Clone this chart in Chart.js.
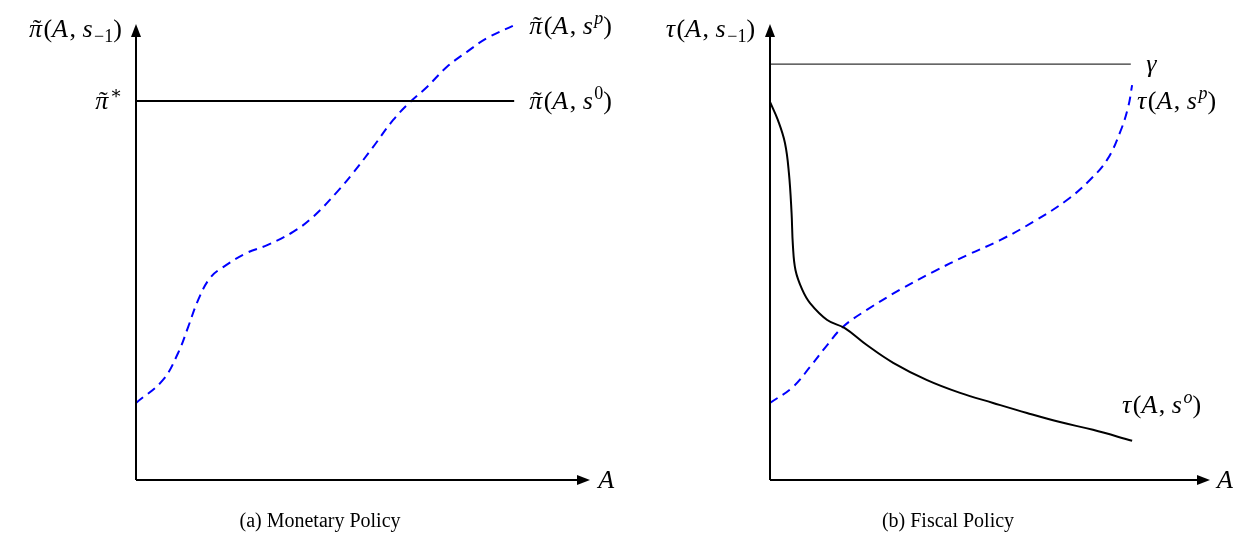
<!DOCTYPE html>
<html>
<head>
<meta charset="utf-8">
<script src="https://cdn.jsdelivr.net/npm/chart.js@4.4.1/dist/chart.umd.min.js"></script>
<style>
  html, body { margin: 0; padding: 0; background: #fff; }
  #wrap { display: flex; width: 1240px; height: 536px; }
  canvas { display: block; }
</style>
</head>
<body>
<div id="wrap">
  <canvas id="monetary" width="620" height="536"></canvas>
  <canvas id="fiscal" width="620" height="536"></canvas>
</div>
<script>
// ---- data (A on 0..100, value on 0..100, axis arrow tips at 100) ----
// (a) monetary policy
const monA = [0, 5.9, 9.3, 11.5, 13.7, 16.3, 19.2, 24.4, 28.9, 34.6, 39.0, 44.3, 47.8, 52.2, 56.6, 60.4, 64.1, 68.5, 72.9, 77.3, 83.0];
const piSp = [16.9, 21.9, 27.9, 33.6, 39.5, 44.3, 46.7, 49.8, 51.5, 54.4, 57.7, 63.2, 67.3, 73.0, 78.9, 82.9, 86.2, 90.6, 93.9, 96.9, 99.6];
const piStar = 83.1;
const piS0End = 83.3;

// (b) fiscal policy
const fisAo = [0, 1.8, 3.4, 4.3, 4.9, 5.2, 5.8, 7.3, 9.1, 13.0, 17.0, 22.0, 28.0, 35.7, 43.2, 50.7, 58.4, 65.9, 73.4, 82.3];
const tauSo = [82.9, 78.9, 73.9, 67.3, 58.6, 51.5, 46.0, 41.8, 38.8, 35.1, 33.3, 29.6, 25.7, 21.9, 19.1, 16.9, 14.7, 12.7, 11.0, 8.6];
const fisAp = [0, 5.2, 9.1, 13.0, 16.6, 22.0, 29.5, 37.0, 44.8, 52.3, 59.8, 67.5, 72.7, 76.6, 79.5, 81.4, 82.3];
const tauSp = [16.9, 20.4, 24.8, 29.6, 33.6, 37.3, 41.7, 45.6, 49.3, 52.6, 56.6, 61.4, 65.8, 70.2, 76.1, 81.8, 86.6];
const gamma = 91.2;
const gammaEnd = 82.0;

const toPts = (xs, ys) => xs.map((v, i) => ({ x: v, y: ys[i] }));

const SERIF = '"Liberation Serif", "DejaVu Serif", serif';
const FS = 26, FSS = 18;

// draw a small piece of math made of parts [text, style]
function drawMath(ctx, parts, px, py, align) {
  const fontOf = s => {
    if (s === "i" || s === "ti") return "italic " + FS + "px " + SERIF;
    if (s === "r") return FS + "px " + SERIF;
    if (s === "supi") return "italic " + FSS + "px " + SERIF;
    return FSS + "px " + SERIF;
  };
  let total = 0;
  const widths = parts.map(p => {
    ctx.font = fontOf(p[1]);
    const w = ctx.measureText(p[0]).width + (p[1] === "i" || p[1] === "ti" ? 1.5 : 0);
    total += w;
    return w;
  });
  let cx = align === "right" ? px - total : align === "center" ? px - total / 2 : px;
  ctx.textAlign = "left";
  ctx.textBaseline = "alphabetic";
  const base = py + 8;
  parts.forEach((p, i) => {
    ctx.font = fontOf(p[1]);
    let dy = 0;
    if (p[1] === "sup" || p[1] === "supi") dy = -10;
    if (p[1] === "sub") dy = 5;
    ctx.fillText(p[0], cx, base + dy);
    if (p[1] === "ti") {
      ctx.font = FS + "px " + SERIF;
      const tw = ctx.measureText("\u02DC").width;
      ctx.fillText("\u02DC", cx + widths[i] / 2 - tw / 2 + 1, base);
    }
    cx += widths[i];
  });
}

function arrowHead(ctx, x, y, dir) {
  const L = 13, W = 5;
  ctx.beginPath();
  if (dir === "up") {
    ctx.moveTo(x, y); ctx.lineTo(x - W, y + L); ctx.lineTo(x + W, y + L);
  } else {
    ctx.moveTo(x, y); ctx.lineTo(x - L, y - W); ctx.lineTo(x - L, y + W);
  }
  ctx.closePath();
  ctx.fill();
}

const decor = {
  id: "decor",
  afterDatasetsDraw(chart, args, opts) {
    const { ctx, chartArea: ca, scales } = chart;
    ctx.save();
    ctx.strokeStyle = "#000";
    ctx.fillStyle = "#000";
    ctx.lineWidth = 2;
    ctx.beginPath();
    ctx.moveTo(ca.left, ca.bottom);
    ctx.lineTo(ca.left, ca.top + 10);
    ctx.moveTo(ca.left, ca.bottom);
    ctx.lineTo(ca.right - 10, ca.bottom);
    ctx.stroke();
    arrowHead(ctx, ca.left, ca.top, "up");
    arrowHead(ctx, ca.right, ca.bottom, "right");
    opts.labels.forEach(l => {
      drawMath(ctx, l.parts, scales.x.getPixelForValue(l.x), scales.y.getPixelForValue(l.y), l.align);
    });
    ctx.font = "20px " + SERIF;
    ctx.textAlign = "center";
    ctx.textBaseline = "middle";
    ctx.fillText(opts.caption, opts.capX, 522);
    ctx.restore();
  }
};

function baseOptions(padLeft, labels, caption, capX) {
  return {
    responsive: false,
    animation: false,
    layout: { padding: { left: padLeft, right: 30, top: 24, bottom: 56 } },
    scales: {
      x: { type: "linear", min: 0, max: 100, display: false },
      y: { type: "linear", min: 0, max: 100, display: false }
    },
    plugins: {
      legend: { display: false },
      tooltip: { enabled: false },
      decor: { labels: labels, caption: caption, capX: capX }
    }
  };
}

const lineDs = (data, color, width, dash) => ({
  data: data,
  showLine: true,
  borderColor: color,
  borderWidth: width,
  borderDash: dash,
  pointRadius: 0,
  tension: 0.4,
  clip: false,
  fill: false
});

const A = [["A", "i"]];

new Chart(document.getElementById("monetary"), {
  type: "scatter",
  data: {
    datasets: [
      lineDs([{ x: 0, y: piStar }, { x: piS0End, y: piStar }], "#000", 2, []),
      lineDs(toPts(monA, piSp), "#0000ff", 2, [9, 6])
    ]
  },
  options: baseOptions(136, [
    { x: -3.1, y: 99.0, align: "right", parts: [["π", "ti"], ["(", "r"], ["A", "i"], [", ", "r"], ["s", "i"], ["−1", "sub"], [")", "r"]] },
    { x: -3.1, y: piStar, align: "right", parts: [["π", "ti"], ["∗", "sup"]] },
    { x: 86.6, y: piStar, align: "left", parts: [["π", "ti"], ["(", "r"], ["A", "i"], [", ", "r"], ["s", "i"], ["0", "sup"], [")", "r"]] },
    { x: 86.6, y: 99.6, align: "left", parts: [["π", "ti"], ["(", "r"], ["A", "i"], [", ", "r"], ["s", "i"], ["p", "supi"], [")", "r"]] },
    { x: 101.8, y: 0, align: "left", parts: A }
  ], "(a) Monetary Policy", 320),
  plugins: [decor]
});

new Chart(document.getElementById("fiscal"), {
  type: "scatter",
  data: {
    datasets: [
      lineDs([{ x: 0, y: gamma }, { x: gammaEnd, y: gamma }], "#333", 1.2, []),
      lineDs(toPts(fisAo, tauSo), "#000", 2, []),
      lineDs(toPts(fisAp, tauSp), "#0000ff", 2, [9, 6])
    ]
  },
  options: baseOptions(150, [
    { x: -3.4, y: 99.0, align: "right", parts: [["τ", "i"], ["(", "r"], ["A", "i"], [", ", "r"], ["s", "i"], ["−1", "sub"], [")", "r"]] },
    { x: 85.5, y: gamma, align: "left", parts: [["γ", "i"]] },
    { x: 83.4, y: 83.1, align: "left", parts: [["τ", "i"], ["(", "r"], ["A", "i"], [", ", "r"], ["s", "i"], ["p", "supi"], [")", "r"]] },
    { x: 80.0, y: 16.4, align: "left", parts: [["τ", "i"], ["(", "r"], ["A", "i"], [", ", "r"], ["s", "i"], ["o", "supi"], [")", "r"]] },
    { x: 101.6, y: 0, align: "left", parts: A }
  ], "(b) Fiscal Policy", 328),
  plugins: [decor]
});
</script>
</body>
</html>
